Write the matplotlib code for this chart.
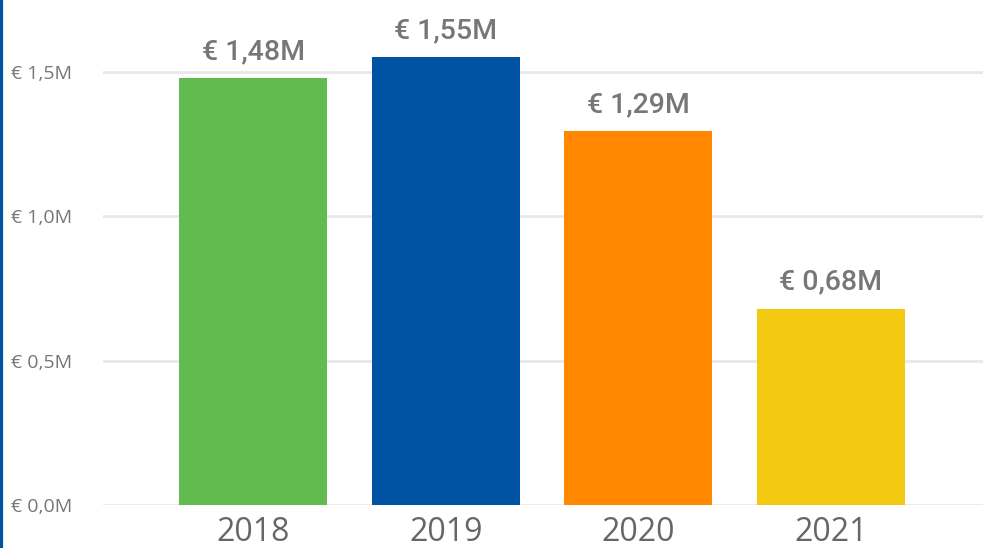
import matplotlib.pyplot as plt
from matplotlib.lines import Line2D

years = ['2018', '2019', '2020', '2021']
values = [1.478, 1.55, 1.295, 0.68]  # million euro
labels = ['€ 1,48M', '€ 1,55M', '€ 1,29M', '€ 0,68M']
colors = ['#62BB4E', '#0052A3', '#FF8800', '#F2C811']
yticks = [0.0, 0.5, 1.0, 1.5]
ytick_labels = ['€ 0,0M', '€ 0,5M', '€ 1,0M', '€ 1,5M']

fig = plt.figure(figsize=(9.83, 5.48), dpi=100)
ax = fig.add_axes([103 / 983, 43 / 548, 880 / 983, 505 / 548])

x = range(len(years))
bars = ax.bar(x, values, width=0.77, color=colors, zorder=3)

# value labels above the bars
for xi, v, lab in zip(x, values, labels):
    ax.text(xi, v + 0.045, lab, ha='center', va='bottom', fontsize=20.5,
            fontweight='medium', family='Roboto', color='#777777')

ax.set_xlim(-0.78, 3.79)
ax.set_ylim(0, 1.749)
ax.set_yticks(yticks)
ax.set_yticklabels(ytick_labels, family='Open Sans', fontsize=14, color='#777777')
ax.set_xticks(list(x))
ax.set_xticklabels(years, family='Open Sans', fontsize=23, color='#666666')
ax.tick_params(axis='both', length=0)
ax.tick_params(axis='y', pad=22)
ax.tick_params(axis='x', pad=8)
ax.grid(axis='y', color='#E8E8E8', linewidth=2, zorder=0)
for s in ax.spines.values():
    s.set_visible(False)

# blue bar on the left edge
fig.add_artist(Line2D([0.0015, 0.0015], [0, 1], color='#0052A3', linewidth=3,
                      transform=fig.transFigure))

fig.savefig('out.png', dpi=100)
